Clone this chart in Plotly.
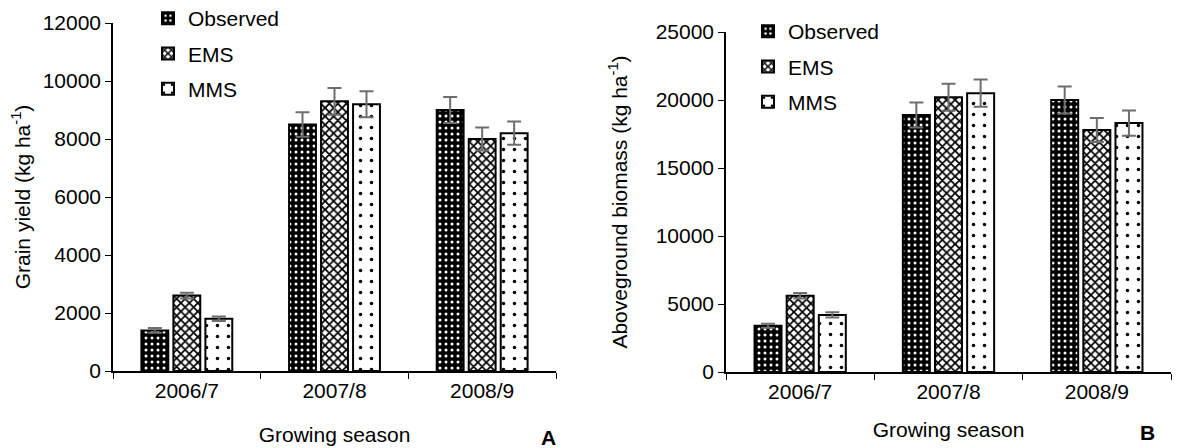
import plotly.graph_objects as go

seasons = ["2006/7", "2007/8", "2008/9"]
series_names = ["Observed", "EMS", "MMS"]

# Panel A: grain yield (kg/ha)
yield_obs = [1400, 8500, 9000]
yield_ems = [2600, 9300, 8000]
yield_mms = [1800, 9200, 8200]
yield_obs_err = [80, 420, 450]
yield_ems_err = [100, 460, 400]
yield_mms_err = [80, 450, 400]

# Panel B: aboveground biomass (kg/ha)
bio_obs = [3400, 18900, 20000]
bio_ems = [5600, 20200, 17800]
bio_mms = [4200, 20500, 18300]
bio_obs_err = [150, 920, 1000]
bio_ems_err = [200, 990, 880]
bio_mms_err = [200, 1000, 920]

FONT = "Liberation Sans, Arial, sans-serif"
FS = 21
patterns = [
    dict(shape=".", bgcolor="black", fgcolor="white", size=6, solidity=0.2, fillmode="replace"),
    dict(shape="x", bgcolor="white", fgcolor="black", size=6, solidity=0.5, fillmode="replace"),
    dict(shape=".", bgcolor="white", fgcolor="black", size=11, solidity=0.08, fillmode="replace"),
]

fig = go.Figure()

def add_panel(vals, errs, xa, ya, leg):
    for i, (name, v, e) in enumerate(zip(series_names, vals, errs)):
        fig.add_trace(go.Bar(
            x=seasons, y=v, name=name, xaxis=xa, yaxis=ya, legend=leg,
            legendgroup=leg + name,
            marker=dict(color="white", line=dict(color="black", width=2), pattern=patterns[i]),
            error_y=dict(type="data", array=e, color="#6e6e6e", thickness=2, width=7),
        ))

add_panel([yield_obs, yield_ems, yield_mms], [yield_obs_err, yield_ems_err, yield_mms_err], "x", "y", "legend")
add_panel([bio_obs, bio_ems, bio_mms], [bio_obs_err, bio_ems_err, bio_mms_err], "x2", "y2", "legend2")

W, H = 1181, 448
def px(x): return x / W
def py(y): return 1 - y / H

axis_common = dict(showline=True, linecolor="black", linewidth=1.5, ticks="outside",
                   tickcolor="black", ticklen=6, showgrid=False, zeroline=False, automargin=False,
                   tickfont=dict(size=FS, color="black", family=FONT))

legend_common = dict(font=dict(size=FS, color="black", family=FONT), bgcolor="rgba(0,0,0,0)",
                     tracegroupgap=5, itemwidth=30, xanchor="left", yanchor="top")

fig.update_layout(
    width=W, height=H, margin=dict(l=0, r=0, t=0, b=0, autoexpand=False),
    paper_bgcolor="white", plot_bgcolor="white",
    barmode="group", bargap=0.35, bargroupgap=0.16,
    font=dict(family=FONT, color="black"),
    xaxis=dict(domain=[px(113), px(556)], anchor="y", tickson="boundaries",
               title=dict(text="Growing season", font=dict(size=FS), standoff=26), **axis_common),
    yaxis=dict(domain=[py(371), py(23)], anchor="x", range=[0, 12000], dtick=2000, tickformat="d",
               title=dict(text="Grain yield (kg ha<sup>-1</sup>)", font=dict(size=FS), standoff=6), **axis_common),
    xaxis2=dict(domain=[px(726), px(1171)], anchor="y2", tickson="boundaries",
                title=dict(text="Growing season", font=dict(size=FS), standoff=20), **axis_common),
    yaxis2=dict(domain=[py(372), py(32)], anchor="x2", range=[0, 25000], dtick=5000, tickformat="d",
                title=dict(text="Aboveground biomass (kg ha<sup>-1</sup>)", font=dict(size=FS), standoff=22), **axis_common),
    legend=dict(x=px(148), y=py(-2), **legend_common),
    legend2=dict(x=px(748), y=py(11), **legend_common),
    annotations=[
        dict(text="<b>A</b>", x=px(548), y=py(437), xref="paper", yref="paper", showarrow=False,
             xanchor="center", yanchor="middle", font=dict(size=FS, family=FONT, color="black")),
        dict(text="<b>B</b>", x=px(1147), y=py(432), xref="paper", yref="paper", showarrow=False,
             xanchor="center", yanchor="middle", font=dict(size=FS, family=FONT, color="black")),
    ],
)

fig.write_html("out.html", config={"displayModeBar": False},
               post_script="document.body.style.margin='0';document.body.style.padding='0';")
